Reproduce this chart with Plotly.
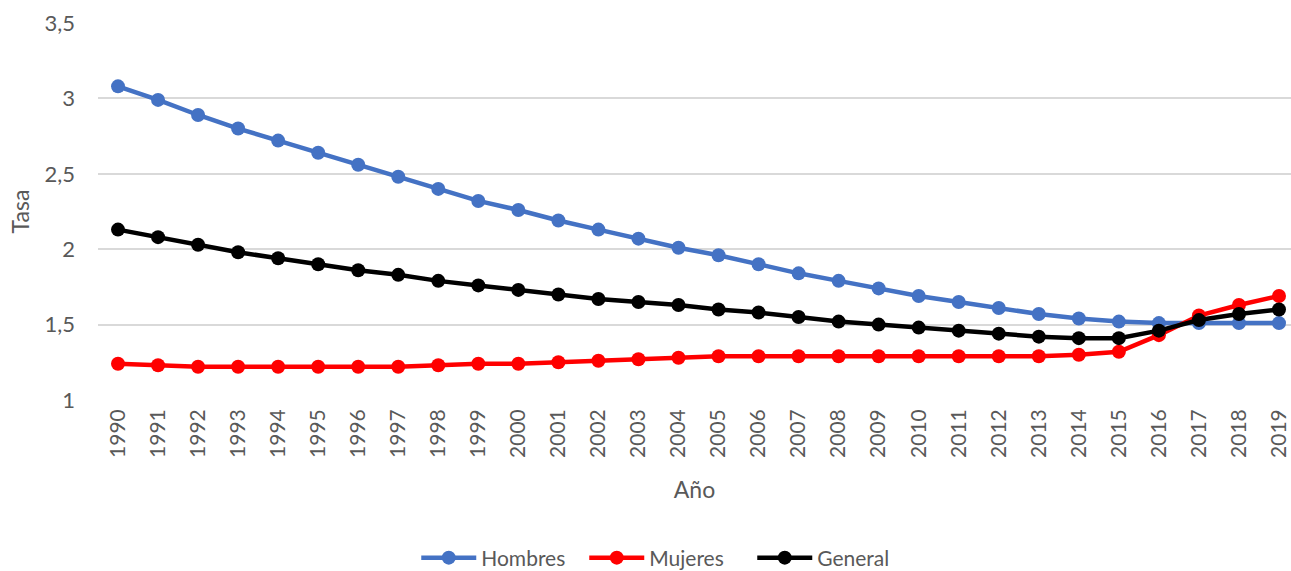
import plotly.graph_objects as go

# Tasa por año, 1990-2019
years = list(range(1990, 2020))
hombres = [3.08, 2.99, 2.89, 2.80, 2.72, 2.64, 2.56, 2.48, 2.40, 2.32,
           2.26, 2.19, 2.13, 2.07, 2.01, 1.96, 1.90, 1.84, 1.79, 1.74,
           1.69, 1.65, 1.61, 1.57, 1.54, 1.52, 1.51, 1.51, 1.51, 1.51]
mujeres = [1.24, 1.23, 1.22, 1.22, 1.22, 1.22, 1.22, 1.22, 1.23, 1.24,
           1.24, 1.25, 1.26, 1.27, 1.28, 1.29, 1.29, 1.29, 1.29, 1.29,
           1.29, 1.29, 1.29, 1.29, 1.30, 1.32, 1.43, 1.56, 1.63, 1.69]
general = [2.13, 2.08, 2.03, 1.98, 1.94, 1.90, 1.86, 1.83, 1.79, 1.76,
           1.73, 1.70, 1.67, 1.65, 1.63, 1.60, 1.58, 1.55, 1.52, 1.50,
           1.48, 1.46, 1.44, 1.42, 1.41, 1.41, 1.46, 1.53, 1.57, 1.60]
y_ticks = [1, 1.5, 2, 2.5, 3, 3.5]
y_tick_text = ["1", "1,5", "2", "2,5", "3", "3,5"]

series = [
    ("Hombres", hombres, "#4472C4"),
    ("Mujeres", mujeres, "#FF0000"),
    ("General", general, "#000000"),
]

fig = go.Figure()
for name, vals, color in series:
    fig.add_trace(go.Scatter(
        x=years, y=vals, name=name, mode="lines+markers",
        line=dict(color=color, width=4.5),
        marker=dict(color=color, size=14),
        cliponaxis=False,
    ))

font_family = "Lato, 'Open Sans', sans-serif"
text_color = "#595959"
fig.update_layout(
    width=1291, height=571,
    margin=dict(l=98, r=0, t=23, b=171, autoexpand=False),
    plot_bgcolor="white", paper_bgcolor="white",
    font=dict(family=font_family, color=text_color, size=21),
    showlegend=True,
    legend=dict(orientation="h", x=0.478, xanchor="center",
                yref="container", y=0.0228, yanchor="middle",
                font=dict(size=21, color=text_color),
                itemwidth=55, entrywidth=98, tracegroupgap=0),
    xaxis=dict(
        range=[1989.5, 2019.3], tickmode="array", tickvals=years,
        ticktext=[str(y) for y in years], tickangle=-90,
        showgrid=False, zeroline=False, showline=False, ticks="",
        ticklabelstandoff=4, ticklabeloverflow="allow",
        tickfont=dict(size=21, color=text_color),
        title=dict(text="Año", font=dict(size=23, color=text_color), standoff=24),
    ),
    yaxis=dict(
        range=[1, 3.5], tickmode="array", tickvals=y_ticks, ticktext=y_tick_text,
        showgrid=True, gridcolor="#D9D9D9", gridwidth=1.5,
        zeroline=False, showline=False, ticks="",
        ticklabelstandoff=22,
        tickfont=dict(size=22, color=text_color),
        title=dict(text="Tasa", font=dict(size=23, color=text_color), standoff=8),
    ),
)

fig.write_html("out.html")
